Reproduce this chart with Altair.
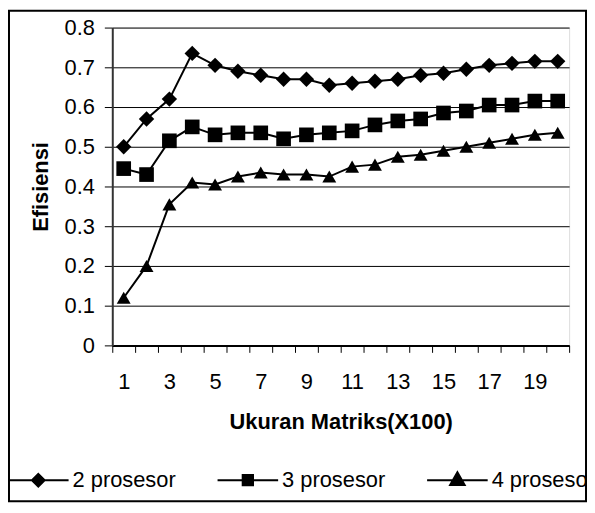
import altair as alt
import pandas as pd

categories = list(range(1, 21))
series_names = ["2 prosesor", "3 prosesor", "4 prosesor"]
p2 = [0.50, 0.57, 0.62, 0.735, 0.705, 0.69, 0.68, 0.67, 0.67, 0.655,
      0.66, 0.665, 0.67, 0.68, 0.685, 0.695, 0.705, 0.71, 0.715, 0.715]
p3 = [0.445, 0.43, 0.515, 0.55, 0.53, 0.535, 0.535, 0.52, 0.53, 0.535,
      0.54, 0.555, 0.565, 0.57, 0.585, 0.59, 0.605, 0.605, 0.615, 0.615]
p4 = [0.12, 0.20, 0.355, 0.41, 0.405, 0.425, 0.435, 0.43, 0.43, 0.425,
      0.45, 0.455, 0.475, 0.48, 0.49, 0.50, 0.51, 0.52, 0.53, 0.535]
y_ticks = [0, 0.1, 0.2, 0.3, 0.4, 0.5, 0.6, 0.7, 0.8]

rows = []
for name, vals in zip(series_names, [p2, p3, p4]):
    for c, v in zip(categories, vals):
        rows.append({"x": c, "y": v, "series": name})
df = pd.DataFrame(rows)

FONT = "Liberation Sans"
FS = 22

x_enc = alt.X(
    "x:O",
    scale=alt.Scale(type="band", domain=categories, paddingInner=0, paddingOuter=0),
    bandPosition=0.5,
    axis=alt.Axis(
        title="Ukuran Matriks(X100)",
        labelExpr="datum.value % 2 == 1 ? datum.label : ''",
        labelAngle=0,
        tickBand="extent",
        tickSize=7,
        tickColor="black",
        tickWidth=1,
        labelPadding=19,
        labelFontSize=FS,
        labelColor="black",
        labelFont=FONT,
        domainColor="black",
        domainWidth=2,
        grid=False,
        titleFont=FONT,
        titleFontSize=FS,
        titleFontWeight="bold",
        titleColor="black",
        titleX=230,
        titleY=77,
        titleBaseline="middle",
        titleAlign="center",
    ),
)
y_enc = alt.Y(
    "y:Q",
    scale=alt.Scale(domain=[0, 0.8], nice=False, zero=True),
    axis=alt.Axis(
        title="Efisiensi",
        values=y_ticks,
        format=".1~f",
        grid=True,
        gridColor="black",
        gridWidth=1,
        gridOpacity=1,
        tickSize=8,
        tickColor="black",
        labelPadding=10,
        labelFontSize=FS,
        labelColor="black",
        labelFont=FONT,
        domainColor="#333333",
        domainWidth=2,
        titleFont=FONT,
        titleFontSize=FS,
        titleFontWeight="bold",
        titleColor="black",
        titleAngle=270,
        titleX=-72,
        titleY=160,
        titleBaseline="middle",
        titleAlign="center",
    ),
)

border = alt.Chart(pd.DataFrame({"a": [0]})).mark_rect(
    fill="transparent", stroke="black", strokeWidth=2
).encode(
    x=alt.value(-104), x2=alt.value(477), y=alt.value(-17), y2=alt.value(477)
)

lines = alt.Chart(df).mark_line(color="black", strokeWidth=2).encode(
    x=x_enc, y=y_enc, detail="series:N"
)

points = alt.Chart(df).mark_point(filled=True, color="black", opacity=1).encode(
    x=x_enc,
    y=y_enc,
    shape=alt.Shape(
        "series:N",
        scale=alt.Scale(domain=series_names, range=["diamond", "square", "triangle-up"]),
        legend=None,
    ),
    size=alt.Size(
        "series:N",
        scale=alt.Scale(domain=series_names, range=[240, 196, 300]),
        legend=None,
    ),
)


def diamond(rs):
    return "".join(f"M0,{-r}L{r},0L0,{r}L{-r},0Z" for r in rs)


def square(rs):
    return "".join(f"M{-r},{-r}H{r}V{r}H{-r}Z" for r in rs)


def triangle(fs):
    out = ""
    for f in fs:
        out += f"M0,{round(-0.26 * f, 3)}L{round(0.24 * f, 3)},{round(0.16 * f, 3)}L{round(-0.24 * f, 3)},{round(0.16 * f, 3)}Z"
    return out


legend_paths = [
    "M-1,0H1" + diamond([0.21, 0.15, 0.09, 0.03]),
    "M-1,0H1" + square([0.17, 0.11, 0.05, 0.01]),
    "M-1,0H1" + triangle([1, 0.7, 0.4, 0.1]),
]
legend_layer = alt.Chart(df).transform_filter("false").mark_point(
    filled=False, color="black", strokeWidth=2, opacity=1, size=3721
).encode(
    shape=alt.Shape(
        "series:N",
        scale=alt.Scale(domain=series_names, range=legend_paths),
        legend=alt.Legend(
            title=None,
            orient="none",
            direction="horizontal",
            legendX=-106,
            legendY=424,
            padding=0,
            columnPadding=38,
            labelOffset=3,
            labelFont=FONT,
            labelFontSize=FS,
            labelColor="black",
            symbolSize=3721,
            symbolStrokeWidth=2,
            symbolStrokeColor="black",
            symbolOpacity=1,
            labelLimit=300,
        ),
    )
)

chart = alt.layer(border, lines, points, legend_layer).resolve_scale(
    shape="independent", size="independent"
).properties(
    width=460,
    height=320,
    autosize=alt.AutoSizeParams(type="none"),
    padding={"left": 105, "top": 18, "right": 18, "bottom": 159},
    background="white",
).configure_view(
    stroke="#808080", strokeWidth=2
).configure(font=FONT)

chart.save("out.html", embed_options={"renderer": "svg", "actions": False})
